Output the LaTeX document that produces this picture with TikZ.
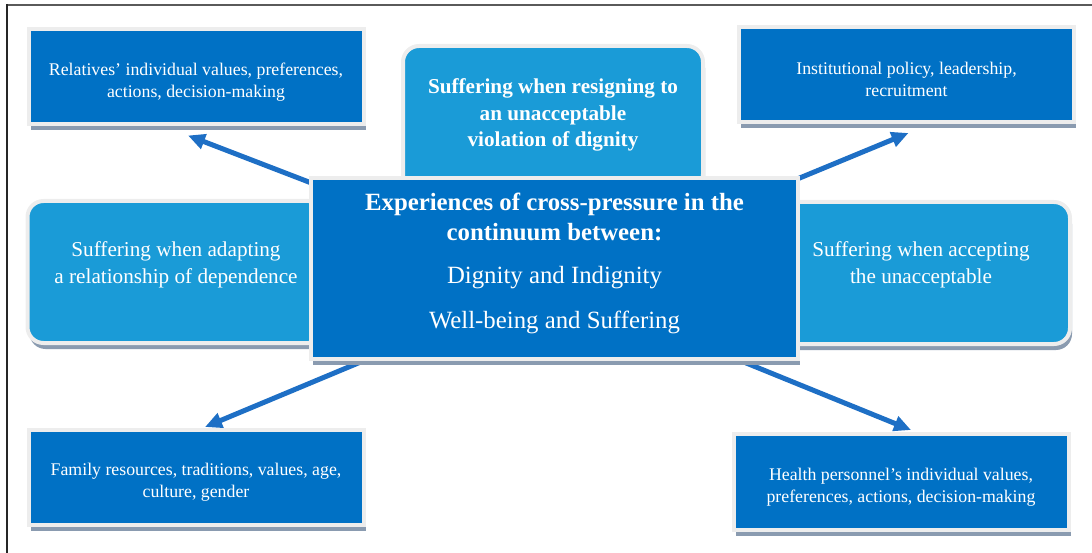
\documentclass[tikz,border=0pt]{standalone}
\usepackage{fontspec}
\setmainfont{Liberation Serif}
\usetikzlibrary{arrows.meta,shadows,backgrounds}

\definecolor{boxblue}{HTML}{0071C5}
\definecolor{softblue}{HTML}{1A9BD7}
\definecolor{rimgrey}{HTML}{EDEDED}
\definecolor{shadowgrey}{HTML}{8A9BB0}
\definecolor{linkblue}{HTML}{1E6FC5}
\definecolor{framegrey}{HTML}{5A5A5A}

\begin{document}
\begin{tikzpicture}[x=1pt, y=-1pt,
    factorbox/.style={rectangle, fill=boxblue, draw=rimgrey, line width=4pt,
        minimum width=335pt, minimum height=95pt,
        drop shadow={shadow xshift=2pt, shadow yshift=-6pt, fill=shadowgrey, opacity=1}},
    softbox/.style={rectangle, rounded corners=16pt, fill=softblue, draw=rimgrey, line width=4pt,
        drop shadow={shadow xshift=2pt, shadow yshift=-6pt, fill=shadowgrey, opacity=1}},
    centrebox/.style={rectangle, fill=boxblue, draw=rimgrey, line width=4pt,
        minimum width=487pt, minimum height=181pt,
        drop shadow={shadow xshift=2pt, shadow yshift=-6pt, fill=shadowgrey, opacity=1}},
    factortext/.style={text=white, align=center, font=\fontsize{17.8}{22}\selectfont},
    softtext/.style={text=white, align=center, font=\fontsize{21.2}{26.5}\selectfont},
    centretext/.style={text=white, align=center, font=\fontsize{24.8}{30}\selectfont},
    link/.style={draw=linkblue, line width=5pt, -{Triangle[length=17pt, width=15pt]}}]
    \useasboundingbox (0,0) rectangle (1092,553);

    % Рамка
    \draw[framegrey, line width=2.5pt] (6,5) -- (1092,5);
    \draw[black!85, line width=2pt] (7,4) -- (7,553);

    % Страдание
    \node[softbox, minimum width=300pt, minimum height=144pt] (resign) at (553,118) {};
    \node[softtext, font=\bfseries\fontsize{21.2}{26.5}\selectfont] (resigntxt) at (553,115)
        {Suffering when resigning to\\an unacceptable\\violation of dignity};
    \node[softbox, minimum width=297pt, minimum height=142pt] (adapt) at (176,272) {};
    \node[softtext] (adapttxt) at (176,265) {Suffering when adapting\\a relationship of dependence};
    \node[softbox, minimum width=298pt, minimum height=142pt] (accept) at (921,273) {};
    \node[softtext] (accepttxt) at (921,265) {Suffering when accepting\\the unacceptable};

    % Центр
    \node[centrebox] (centre) at (554.5,268.5) {};
    \node[centretext] (centretxt) at (554.5,263)
        {\textbf{Experiences of cross-pressure in the}\\\textbf{continuum between:}\\[13pt]
         Dignity and Indignity\\[15pt]Well-being and Suffering};

    % Факторы
    \node[factorbox] (relatives) at (196,77) {};
    \node[factortext] (relativestxt) at (196,82) {Relatives’ individual values, preferences,\\actions, decision-making};
    \node[factorbox] (institution) at (906.5,74.5) {};
    \node[factortext] (institutiontxt) at (906.5,79.5) {Institutional policy, leadership,\\recruitment};
    \node[factorbox] (family) at (196,477.5) {};
    \node[factortext] (familytxt) at (196,482.5) {Family resources, traditions, values, age,\\culture, gender};
    \node[factorbox, minimum height=96pt] (health) at (901,482) {};
    \node[factortext] (healthtxt) at (901,487) {Health personnel’s individual values,\\preferences, actions, decision-making};

    % Стрелки
    \begin{scope}[on background layer]
        \draw[link] ([shift={(5,8)}]centre.north west) -- ([shift={(-8,9)}]relatives.south);
        \draw[link] ([shift={(-10,6)}]centre.north east) -- ([shift={(2,9)}]institution.south);
        \draw[link] ([shift={(66,-5)}]centre.south west) -- ([shift={(9,-1)}]family.north);
        \draw[link] ([shift={(-71,-5)}]centre.south east) -- ([shift={(10,-2)}]health.north);
    \end{scope}
\end{tikzpicture}
\end{document}
